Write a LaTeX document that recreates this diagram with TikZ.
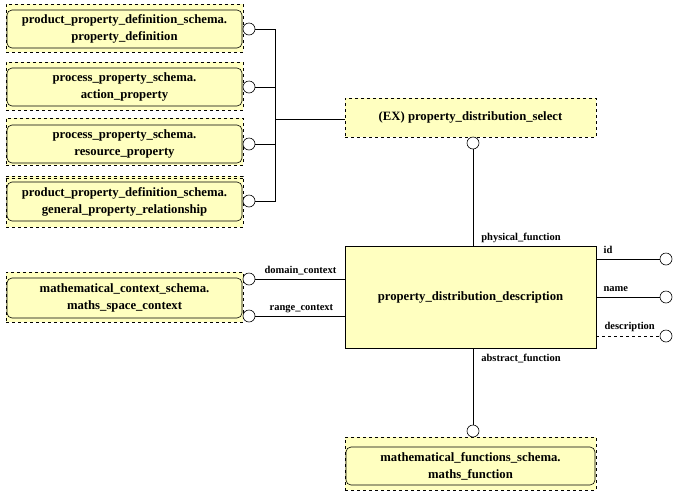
\documentclass[tikz,border=0pt]{standalone}
\usepackage{fontspec}
\setmainfont{Liberation Serif}
\begin{document}
\begin{tikzpicture}[x=1pt,y=-1pt,
  every node/.style={font=\bfseries\fontsize{12.7}{17}\selectfont},
  pale/.style={fill={rgb,255:red,255;green,255;blue,192}},
  outerbox/.style={pale,draw,dashed,line width=0.6pt,inner sep=0pt},
  innerbox/.style={pale,draw,rounded corners=5pt,line width=0.6pt,inner sep=0pt,align=center},
  entbox/.style={pale,draw,line width=0.6pt,inner sep=0pt,align=center},
  ring/.style={circle,draw,fill=white,minimum size=12pt,inner sep=0pt,line width=0.6pt},
  link/.style={line width=0.7pt},
  lbl/.style={font=\bfseries\fontsize{10.5}{12}\selectfont,inner sep=0pt,anchor=base west}]
\useasboundingbox (0,0) rectangle (685,499);

% referenced entities on the left, each in a dashed frame
\node[outerbox,minimum width=237pt,minimum height=48pt] (o1) at (124.5,28) {};
\node[innerbox,minimum width=235pt,minimum height=38pt] (b1) at (124.5,29)
  {product\_property\_definition\_schema.\\property\_definition};
\node[outerbox,minimum width=237pt,minimum height=48pt] (o2) at (124.5,86) {};
\node[innerbox,minimum width=235pt,minimum height=38pt] (b2) at (124.5,87)
  {process\_property\_schema.\\action\_property};
\node[outerbox,minimum width=237pt,minimum height=47pt] (o3) at (124.5,141.5) {};
\node[innerbox,minimum width=235pt,minimum height=38pt] (b3) at (124.5,144)
  {process\_property\_schema.\\resource\_property};
\node[outerbox,minimum width=237pt,minimum height=51pt] (o4) at (124.5,201.5) {};
\draw[dashed,line width=0.6pt] ([yshift=-2.5pt]o4.north west) -- ([yshift=-2.5pt]o4.north east);
\node[innerbox,minimum width=235pt,minimum height=39pt] (b4) at (124.5,201.5)
  {product\_property\_definition\_schema.\\general\_property\_relationship};

\node[outerbox,minimum width=237pt,minimum height=50pt] (o5) at (124.5,297) {};
\node[innerbox,minimum width=235pt,minimum height=40pt] (b5) at (124.5,298)
  {mathematical\_context\_schema.\\maths\_space\_context};

% select type and main entity
\node[outerbox,minimum width=251pt,minimum height=39pt] (sel) at (470.5,117.5)
  {(EX) property\_distribution\_select};
\node[entbox,minimum width=251pt,minimum height=102pt] (pdd) at (470.5,297)
  {property\_distribution\_description};

\node[outerbox,minimum width=251pt,minimum height=53pt] (o6) at (470.5,463.5) {};
\node[innerbox,minimum width=249pt,minimum height=38pt] (b6) at (470.5,466)
  {mathematical\_functions\_schema.\\maths\_function};

% rings
\node[ring] (r1) at (249,29) {};
\node[ring] (r2) at (249,87) {};
\node[ring] (r3) at (249,144) {};
\node[ring] (r4) at (249,201) {};
\node[ring] (r5) at (249,279) {};
\node[ring] (r6) at (249,316) {};
\node[ring] (rs) at (473,143) {};
\node[ring] (rm) at (473,431) {};
\node[ring] (ri) at (666,259) {};
\node[ring] (rn) at (666,297) {};
\node[ring] (rd) at (666,336) {};

% select tree
\coordinate (j1) at (275,29);
\coordinate (j4) at (275,201);
\coordinate (jm) at (275,119);
\draw[link] (r1.east) -- (j1) -- (j4) -- (r4.east);
\draw[link] (r2.east) -- (r2.east -| j1);
\draw[link] (r3.east) -- (r3.east -| j1);
\draw[link] (jm) -- (jm -| sel.west);

% attributes
\draw[link] (rs.south) -- (rs.south |- pdd.north)
  node[lbl,pos=1,xshift=8pt,yshift=5pt] {physical\_function};
\draw[link] (rm.north) -- (rm.north |- pdd.south)
  node[lbl,pos=1,xshift=8pt,yshift=-13pt] {abstract\_function};
\draw[link] (r5.east) -- (r5.east -| pdd.west)
  node[lbl,pos=0,xshift=9pt,yshift=6pt] {domain\_context};
\draw[link] (r6.east) -- (r6.east -| pdd.west)
  node[lbl,pos=0,xshift=14pt,yshift=6pt] {range\_context};
\draw[link] (ri.west -| pdd.east) -- (ri.west)
  node[lbl,pos=0,xshift=7pt,yshift=6pt] {id};
\draw[link] (rn.west -| pdd.east) -- (rn.west)
  node[lbl,pos=0,xshift=7pt,yshift=6pt] {name};
\draw[link,dashed] (rd.west -| pdd.east) -- (rd.west)
  node[lbl,pos=0,xshift=8pt,yshift=7pt] {description};
\end{tikzpicture}
\end{document}
